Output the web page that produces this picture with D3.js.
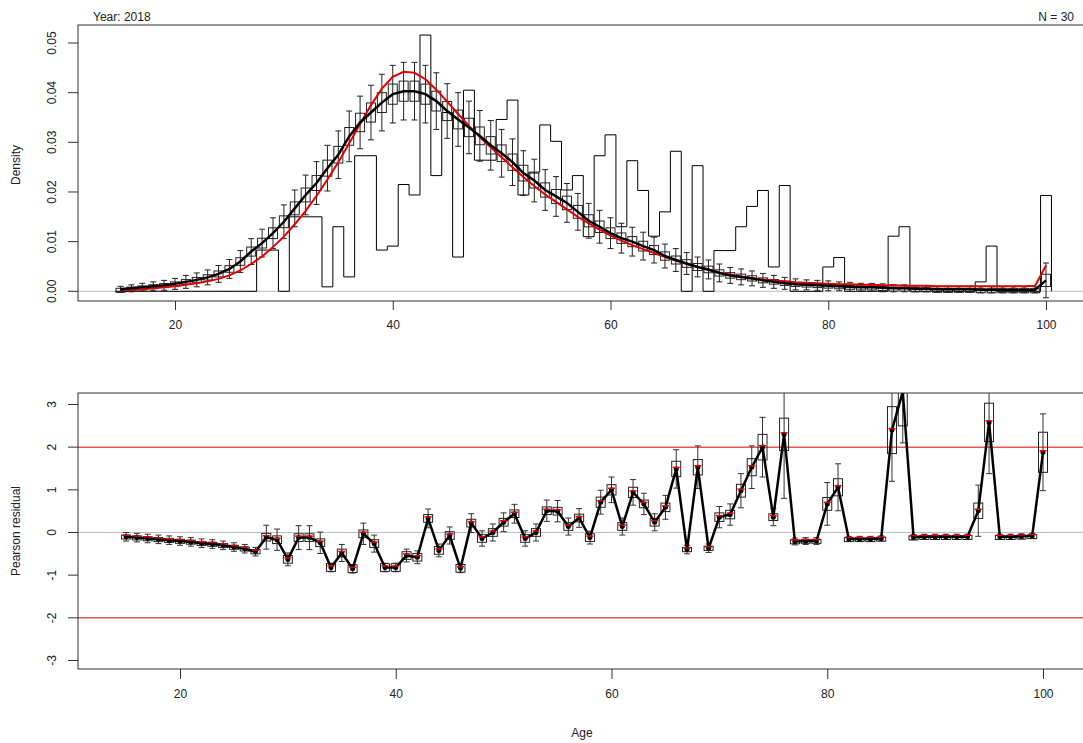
<!DOCTYPE html>
<html>
<head>
<meta charset="utf-8">
<script src="https://cdn.jsdelivr.net/npm/d3@7"></script>
<style>
  body { margin: 0; background: #fff; }
  text { font-family: "Liberation Sans", Arial, sans-serif; font-size: 12px; fill: #222; }
</style>
</head>
<body>
<svg id="chart" width="1083" height="743"></svg>
<script>
// ages 15..100
const ages = d3.range(15, 101);

// observed density (histogram)
const observed = [0,0,0,0,0,0,0,0,0,0,0,0,0, .0083,.0083,0,.015,.015,.015,.0009,.013,.0029,.0273,.0273,
  .0083,.0091,.0215,.0194,.0516,.0233,.036,.0069,.0405,.0264,.0264,.0346,.0385,.0194,.024,.0335,.0302,
  .0204,.0233,.011,.0273,.0315,.013,.0263,.0203,.0111,.016,.0282,0,.0253,0,.0082,.0082,.013,.0171,.0203,
  .0049,.0213,0,0,0,.0049,.0068,0,0,0,0,.0111,.013,0,0,0,0,0,0,.0019,.0091,0,0,0,0,.0193];

// expected density (black curve)
const expected = [.0004,.0006,.0008,.0010,.0012,.0015,.0019,.0023,.0028,.0035,.0045,.0060,.0080,.0097,
  .0117,.0140,.0167,.0194,.0218,.0248,.0275,.0312,.0340,.0360,.0380,.0397,.0403,.0403,.0397,.0383,.0363,
  .0346,.0330,.0313,.0294,.0278,.0260,.0238,.0223,.0204,.0191,.0178,.0160,.0142,.0130,.0117,.0107,.0100,
  .0091,.0083,.0071,.0063,.0056,.0049,.0044,.0037,.0032,.0029,.0026,.0022,.0019,.0016,.0014,.0013,.0012,
  .0011,.0010,.0009,.0008,.0008,.0007,.0006,.0006,.0005,.0005,.0004,.0004,.0004,.0004,.0003,.0003,.0003,
  .0003,.0003,.0003,.0022];

// half-width of interval around expected
const expErr = [.0006,.0007,.0008,.0009,.0010,.0011,.0013,.0014,.0015,.0017,.0019,.0022,.0026,.0028,.0031,
  .0034,.0037,.0040,.0043,.0046,.0048,.0051,.0053,.0055,.0057,.0058,.0058,.0058,.0058,.0057,.0055,.0054,
  .0053,.0051,.0050,.0048,.0047,.0045,.0043,.0041,.0040,.0039,.0037,.0035,.0033,.0031,.0030,.0029,.0028,
  .0026,.0024,.0023,.0022,.0020,.0019,.0018,.0016,.0016,.0015,.0014,.0013,.0012,.0011,.0010,.0010,.0010,
  .0009,.0009,.0008,.0008,.0008,.0007,.0007,.0006,.0006,.0006,.0006,.0006,.0006,.0006,.0006,.0006,.0006,
  .0006,.0006,.0035];

// fitted density (red curve)
const fitted = [.0002,.0003,.0004,.0006,.0008,.0010,.0013,.0016,.0020,.0025,.0032,.0042,.0055,.0070,.0089,
  .0110,.0135,.0162,.0192,.0225,.0260,.0298,.0337,.0375,.0408,.0432,.0442,.0440,.0427,.0406,.0382,.0357,
  .0333,.0310,.0290,.0270,.0250,.0230,.0212,.0195,.0180,.0165,.0150,.0137,.0124,.0112,.0102,.0093,.0085,
  .0077,.0069,.0062,.0055,.0049,.0043,.0038,.0034,.0030,.0027,.0024,.0022,.0020,.0018,.0017,.0016,.0015,
  .0014,.0014,.0013,.0013,.0012,.0012,.0011,.0011,.0011,.0010,.0010,.0010,.0010,.0010,.0010,.0010,.0010,
  .0010,.0011,.0052];

// Pearson residuals
const residual = [-0.10,-0.12,-0.14,-0.16,-0.18,-0.20,-0.22,-0.25,-0.27,-0.30,-0.34,-0.38,-0.45,-0.11,-0.17,
  -0.63,-0.12,-0.12,-0.24,-0.82,-0.48,-0.85,-0.03,-0.26,-0.82,-0.82,-0.54,-0.58,0.33,-0.42,-0.07,-0.84,0.22,
  -0.14,0.0,0.24,0.44,-0.14,0.0,0.51,0.50,0.14,0.34,-0.12,0.71,1.0,0.14,0.94,0.67,0.24,0.59,1.49,-0.40,1.53,
  -0.37,0.36,0.42,0.98,1.53,2.0,0.36,2.3,-0.21,-0.2,-0.2,0.67,1.06,-0.15,-0.15,-0.15,-0.14,2.4,3.3,-0.11,
  -0.1,-0.1,-0.1,-0.1,-0.1,0.51,2.58,-0.1,-0.1,-0.09,-0.08,1.88];

// residual box half-heights and interval half-lengths
const resBox = [.04,.04,.04,.04,.04,.04,.04,.04,.04,.04,.04,.04,.05,.09,.09,.09,.09,.09,.09,.09,.09,.09,.09,
  .09,.09,.09,.09,.09,.09,.09,.09,.09,.09,.09,.09,.09,.09,.09,.09,.09,.09,.09,.09,.09,.12,.12,.09,.12,.09,
  .09,.1,.18,.05,.18,.05,.1,.1,.15,.2,.3,.08,.38,.04,.04,.04,.15,.2,.03,.03,.03,.03,.55,.8,.03,.03,.03,.03,
  .03,.03,.18,.45,.03,.03,.03,.03,.47];
const resErr = [.1,.1,.1,.1,.1,.1,.1,.1,.1,.1,.1,.1,.1,.28,.25,.15,.28,.28,.25,.1,.2,.1,.25,.2,.1,.1,.15,.15,
  .22,.15,.2,.1,.22,.18,.2,.22,.22,.18,.2,.25,.25,.2,.22,.15,.28,.3,.2,.3,.25,.2,.28,.45,.1,.5,.1,.25,.25,
  .4,.5,.7,.2,1.5,.08,.08,.08,.5,.55,.06,.06,.06,.06,1.2,1.2,.06,.06,.06,.06,.06,.06,.6,1.2,.06,.06,.06,
  .06,.9];

const yearLabel = "Year: 2018";
const nLabel = "N = 30";
const xTicks = [20, 40, 60, 80, 100];
const densTicks = [0, 0.01, 0.02, 0.03, 0.04, 0.05];
const resTicks = [-3, -2, -1, 0, 1, 2, 3];

const svg = d3.select("#chart");
const rows = ages.map((a, i) => ({
  age: a, obs: observed[i], exp: expected[i], err: expErr[i], fit: fitted[i],
  res: residual[i], box: resBox[i], rerr: resErr[i]
}));

function rotateYLabels(axisG, scale) {
  axisG.select(".domain").remove();
  axisG.selectAll(".tick").attr("transform", null);
  axisG.selectAll(".tick line").attr("stroke", "#333").attr("transform", d => `translate(0,${scale(d)})`);
  axisG.selectAll(".tick text").attr("x", 0).attr("y", 0).attr("dy", 0)
    .attr("text-anchor", "middle").attr("dominant-baseline", "middle")
    .attr("transform", d => `translate(-25,${scale(d)}) rotate(-90)`)
    .style("font-size", "12px").attr("fill", "#222");
}

// ---------- top panel ----------
const topBox = { left: 78, right: 1083, top: 25, bottom: 301 };
const xT = d3.scaleLinear().domain([20, 100]).range([175, 1046]);
const yT = d3.scaleLinear().domain([0, 0.05]).range([291.3, 43]);

svg.append("clipPath").attr("id", "clipTop").append("rect")
  .attr("x", topBox.left).attr("y", topBox.top).attr("width", topBox.right - topBox.left).attr("height", topBox.bottom - topBox.top);

const gT = svg.append("g").attr("clip-path", "url(#clipTop)");

gT.append("line").attr("x1", topBox.left).attr("x2", topBox.right)
  .attr("y1", yT(0)).attr("y2", yT(0)).attr("stroke", "#bebebe");

// histogram steps
const stepPts = [];
rows.forEach(d => { stepPts.push([d.age - 0.5, d.obs]); stepPts.push([d.age + 0.5, d.obs]); });
const stepPath = [[14.5, 0]].concat(stepPts).concat([[100.5, 0]]);
gT.append("path")
  .attr("d", d3.line().x(p => xT(p[0])).y(p => yT(p[1]))(stepPath))
  .attr("fill", "none").attr("stroke", "#000").attr("stroke-width", 1);

// error bars
const eb = gT.append("g").attr("stroke", "#222").attr("stroke-width", 1);
rows.forEach(d => {
  const x = xT(d.age);
  eb.append("line").attr("x1", x).attr("x2", x).attr("y1", yT(d.exp - d.err)).attr("y2", yT(d.exp + d.err));
  [d.exp - d.err, d.exp + d.err].forEach(v =>
    eb.append("line").attr("x1", x - 3).attr("x2", x + 3).attr("y1", yT(v)).attr("y2", yT(v)));
});

// boxes
gT.append("g").selectAll("rect").data(rows).join("rect")
  .attr("x", d => xT(d.age) - 4.5).attr("width", 9)
  .attr("y", d => yT(d.exp + d.err * 0.35))
  .attr("height", d => Math.max(4, yT(d.exp - d.err * 0.35) - yT(d.exp + d.err * 0.35)))
  .attr("fill", "none").attr("stroke", "#222").attr("stroke-width", 1);

gT.append("path")
  .attr("d", d3.line().x(d => xT(d.age)).y(d => yT(d.fit))(rows))
  .attr("fill", "none").attr("stroke", "#e00000").attr("stroke-width", 2);
gT.append("path")
  .attr("d", d3.line().x(d => xT(d.age)).y(d => yT(d.exp))(rows))
  .attr("fill", "none").attr("stroke", "#000").attr("stroke-width", 2.5);

svg.append("rect").attr("x", topBox.left).attr("y", topBox.top)
  .attr("width", topBox.right - topBox.left + 5).attr("height", topBox.bottom - topBox.top)
  .attr("fill", "none").attr("stroke", "#333");

svg.append("g").attr("transform", `translate(0,${topBox.bottom})`)
  .call(d3.axisBottom(xT).tickValues(xTicks).tickSize(9).tickPadding(10))
  .call(g => { g.select(".domain").remove(); g.selectAll("line").attr("stroke", "#333");
    g.selectAll("text").style("font-size", "12px").attr("fill", "#222"); });

const yAxT = svg.append("g").attr("transform", `translate(${topBox.left},0)`)
  .call(d3.axisLeft(yT).tickValues(densTicks).tickFormat(d3.format(".2f")).tickSize(10));
rotateYLabels(yAxT, yT);

svg.append("text").attr("x", 93).attr("y", 21).text(yearLabel);
svg.append("text").attr("x", 1074).attr("y", 21).attr("text-anchor", "end").text(nLabel);
svg.append("text").attr("transform", "translate(20,165) rotate(-90)").attr("text-anchor", "middle").text("Density");

// ---------- bottom panel ----------
const botBox = { left: 78, right: 1083, top: 393, bottom: 669 };
const xB = d3.scaleLinear().domain([20, 100]).range([180, 1043]);
const yB = d3.scaleLinear().domain([-3, 3]).range([660.5, 404.5]);

svg.append("clipPath").attr("id", "clipBot").append("rect")
  .attr("x", botBox.left).attr("y", botBox.top).attr("width", botBox.right - botBox.left).attr("height", botBox.bottom - botBox.top);
const gB = svg.append("g").attr("clip-path", "url(#clipBot)");

gB.append("line").attr("x1", botBox.left).attr("x2", botBox.right).attr("y1", yB(0)).attr("y2", yB(0)).attr("stroke", "#bebebe");
[-2, 2].forEach(v => gB.append("line").attr("x1", botBox.left).attr("x2", botBox.right)
  .attr("y1", yB(v)).attr("y2", yB(v)).attr("stroke", "#e00000"));

const ebB = gB.append("g").attr("stroke", "#333").attr("stroke-width", 1);
rows.forEach(d => {
  const x = xB(d.age);
  ebB.append("line").attr("x1", x).attr("x2", x).attr("y1", yB(d.res - d.rerr)).attr("y2", yB(d.res + d.rerr));
  [d.res - d.rerr, d.res + d.rerr].forEach(v =>
    ebB.append("line").attr("x1", x - 3).attr("x2", x + 3).attr("y1", yB(v)).attr("y2", yB(v)));
});

gB.append("g").selectAll("rect").data(rows).join("rect")
  .attr("x", d => xB(d.age) - 4.5).attr("width", 9)
  .attr("y", d => yB(d.res + d.box))
  .attr("height", d => Math.max(4, yB(d.res - d.box) - yB(d.res + d.box)))
  .attr("fill", "none").attr("stroke", "#222").attr("stroke-width", 1);

gB.append("path")
  .attr("d", d3.line().x(d => xB(d.age)).y(d => yB(d.res))(rows))
  .attr("fill", "none").attr("stroke", "#000").attr("stroke-width", 2.5);
gB.append("g").selectAll("circle").data(rows).join("circle")
  .attr("cx", d => xB(d.age)).attr("cy", d => yB(d.res)).attr("r", 2.5).attr("fill", "#000");
gB.append("g").selectAll("line").data(rows).join("line")
  .attr("x1", d => xB(d.age) - 3.5).attr("x2", d => xB(d.age) + 3.5)
  .attr("y1", d => yB(d.res) - 1.5).attr("y2", d => yB(d.res) - 1.5)
  .attr("stroke", "#e00000").attr("stroke-width", 1.5);

svg.append("rect").attr("x", botBox.left).attr("y", botBox.top)
  .attr("width", botBox.right - botBox.left + 5).attr("height", botBox.bottom - botBox.top)
  .attr("fill", "none").attr("stroke", "#333");

svg.append("g").attr("transform", `translate(0,${botBox.bottom})`)
  .call(d3.axisBottom(xB).tickValues(xTicks).tickSize(10).tickPadding(10))
  .call(g => { g.select(".domain").remove(); g.selectAll("line").attr("stroke", "#333");
    g.selectAll("text").style("font-size", "12px").attr("fill", "#222"); });

const yAxB = svg.append("g").attr("transform", `translate(${botBox.left},0)`)
  .call(d3.axisLeft(yB).tickValues(resTicks).tickFormat(d => String(d)).tickSize(10));
rotateYLabels(yAxB, yB);

svg.append("text").attr("transform", "translate(20,531) rotate(-90)").attr("text-anchor", "middle").text("Pearson residual");
svg.append("text").attr("x", 582).attr("y", 737).attr("text-anchor", "middle").text("Age");
</script>
</body>
</html>
